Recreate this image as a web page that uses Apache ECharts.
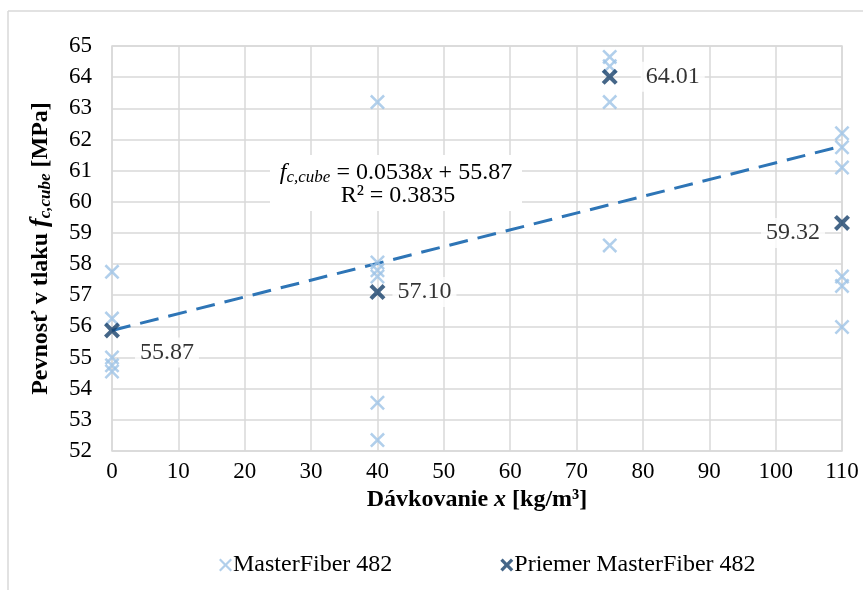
<!DOCTYPE html>
<html>
<head>
<meta charset="utf-8">
<script src="https://cdn.jsdelivr.net/npm/echarts@6/dist/echarts.min.js"></script>
<style>html,body{margin:0;padding:0;background:#fff;}#c{width:863px;height:590px;}</style>
</head>
<body>
<div id="c"></div>
<script>
// Data
const dosages = [0, 40, 75, 110];
const samples0 = [57.75, 56.25, 55.0, 54.75, 54.55];
const samples40 = [63.2, 58.05, 57.8, 57.6, 53.55, 52.35];
const samples75 = [64.65, 64.35, 63.2, 58.6];
const samples110 = [62.2, 61.75, 61.1, 57.6, 57.3, 55.98];
const means = [55.87, 57.10, 64.01, 59.32];
const slope = 0.0538;
const intercept = 55.87;
const r2 = 0.3835;
const xTicks = [0,10,20,30,40,50,60,70,80,90,100,110];
const yTicks = [52,53,54,55,56,57,58,59,60,61,62,63,64,65];

const FONT = '"Liberation Serif", "Times New Roman", serif';
const crossThin = 'path://M0,1.2L1.2,0L5,3.8L8.8,0L10,1.2L6.2,5L10,8.8L8.8,10L5,6.2L1.2,10L0,8.8L3.8,5Z';
const crossThick = 'path://M0,1.8L1.8,0L5,3.2L8.2,0L10,1.8L6.8,5L10,8.2L8.2,10L5,6.8L1.8,10L0,8.2L3.2,5Z';

const groups = [samples0, samples40, samples75, samples110];
const sampleData = [];
groups.forEach((g, i) => g.forEach(v => sampleData.push([dosages[i], v])));

const labelPos = [
  {position: 'right', offset: [10, 22]},
  {position: 'right', offset: [2, 0]},
  {position: 'right', offset: [18, 0]},
  {position: 'left', offset: [-4, 10]}
];
const meanData = means.map((v, i) => ({
  value: [dosages[i], v],
  label: Object.assign({show: true, formatter: v.toFixed(2)}, labelPos[i])
}));

const trendData = [[xTicks[0], intercept + slope * xTicks[0]], [xTicks[xTicks.length-1], intercept + slope * xTicks[xTicks.length-1]]];

const FS = 23;
const chart = echarts.init(document.getElementById('c'));
chart.setOption({
  backgroundColor: '#fff',
  animation: false,
  grid: {left: 112, right: 21, top: 46, bottom: 139, show: true, borderColor: '#d9d9d9', borderWidth: 1.5},
  xAxis: {
    type: 'value', min: 0, max: 110, interval: 10,
    axisLine: {show: false}, axisTick: {show: false},
    splitLine: {show: true, lineStyle: {color: '#d9d9d9', width: 1.5}},
    axisLabel: {fontFamily: FONT, fontSize: FS, color: '#000', margin: 9},
    name: '{b|Dávkovanie }{bi|x}{b| [kg/m³]}',
    nameLocation: 'middle', nameGap: 35,
    nameTextStyle: {
      rich: {
        b: {fontFamily: FONT, fontSize: 24, fontWeight: 'bold', color: '#000'},
        bi: {fontFamily: FONT, fontSize: 24, fontWeight: 'bold', fontStyle: 'italic', color: '#000'}
      }
    }
  },
  yAxis: {
    type: 'value', min: 52, max: 65, interval: 1,
    axisLine: {show: false}, axisTick: {show: false},
    splitLine: {show: true, lineStyle: {color: '#d9d9d9', width: 1.5}},
    axisLabel: {fontFamily: FONT, fontSize: FS, color: '#000', margin: 20},
    name: '{b|Pevnosť v tlaku }{bi|f}{sub|c,cube}{b| [MPa]}',
    nameLocation: 'middle', nameGap: 58, nameRotate: 90,
    nameTextStyle: {
      rich: {
        b: {fontFamily: FONT, fontSize: 24, fontWeight: 'bold', color: '#000'},
        bi: {fontFamily: FONT, fontSize: 26, fontWeight: 'bold', fontStyle: 'italic', color: '#000'},
        sub: {fontFamily: FONT, fontSize: 17, fontWeight: 'bold', fontStyle: 'italic', color: '#000', verticalAlign: 'bottom', padding: [10, 0, 0, 0]}
      }
    }
  },
  legend: {
    bottom: 8, left: 214, itemGap: 108, itemWidth: 13, itemHeight: 13,
    textStyle: {fontFamily: FONT, fontSize: 24, color: '#000', padding: [0, 0, 0, -4]},
    data: [{name: 'MasterFiber 482', icon: crossThin}, {name: 'Priemer MasterFiber 482', icon: crossThick}]
  },
  series: [
    {
      name: 'Trend', type: 'line', data: trendData, symbol: 'none', z: 3,
      lineStyle: {color: '#2e75b6', width: 3, type: [19, 10]}
    },
    {
      name: 'MasterFiber 482', type: 'scatter', data: sampleData, symbol: crossThin, symbolSize: 15, z: 4,
      itemStyle: {color: '#9dc3e6'}
    },
    {
      name: 'Priemer MasterFiber 482', type: 'scatter', data: meanData, symbol: crossThick, symbolSize: 16, z: 5,
      itemStyle: {color: '#17406a'},
      label: {fontFamily: FONT, fontSize: 24, color: '#000', backgroundColor: '#fff', padding: [3, 5]}
    }
  ],
  graphic: [
    {type: 'line', shape: {x1: 8, y1: 11, x2: 863, y2: 11}, style: {stroke: '#d9d9d9', lineWidth: 1.5}, silent: true},
    {type: 'line', shape: {x1: 8, y1: 11, x2: 8, y2: 590}, style: {stroke: '#d9d9d9', lineWidth: 1.5}, silent: true},
    {
      type: 'rect', shape: {x: 270, y: 155, width: 252, height: 56}, style: {fill: '#fff'}, z: 9, silent: true
    },
    {
      type: 'text', z: 10, silent: true,
      style: {
        x: 396, y: 173,
        text: '{i|f}{sub|c,cube}{n| = ' + slope + '}{i|x}{n| + ' + intercept.toFixed(2) + '}',
        align: 'center', verticalAlign: 'middle',
        rich: {
          i: {fontFamily: FONT, fontSize: 24, fontStyle: 'italic', color: '#000'},
          sub: {fontFamily: FONT, fontSize: 17, fontStyle: 'italic', color: '#000', verticalAlign: 'bottom', padding: [10, 0, 0, 0]},
          n: {fontFamily: FONT, fontSize: 24, color: '#000'}
        }
      }
    },
    {
      type: 'text', z: 10, silent: true,
      style: {
        x: 398, y: 196,
        text: 'R² = ' + r2,
        align: 'center', verticalAlign: 'middle',
        fontFamily: FONT, fontSize: 24, fill: '#000'
      }
    }
  ]
});
</script>
</body>
</html>
